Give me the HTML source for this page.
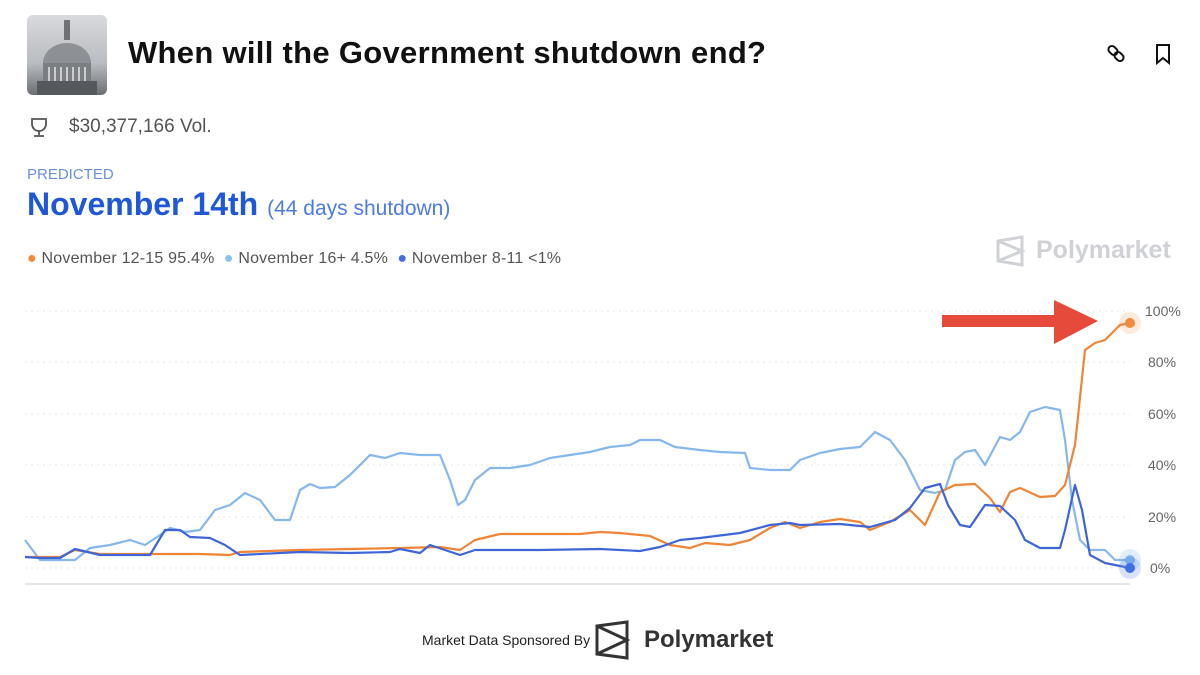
<!DOCTYPE html>
<html><head><meta charset="utf-8"><style>
html,body{margin:0;padding:0;background:#fff;width:1200px;height:675px;overflow:hidden;font-family:"Liberation Sans",sans-serif}
.a{position:absolute;white-space:nowrap}
</style></head><body>
<div class="a" style="left:27px;top:15px;width:80px;height:80px;border-radius:6px;background:linear-gradient(#d8dadd,#b9bcc0 60%,#6b6e72);overflow:hidden">
<svg width="80" height="80"><ellipse cx="40" cy="48" rx="24" ry="20" fill="#8d9094"/><rect x="16" y="48" width="48" height="20" fill="#7b7e82"/><rect x="10" y="66" width="60" height="14" fill="#55585c"/><rect x="37" y="5" width="6" height="20" fill="#6e7175"/><g stroke="#e8e8e8" stroke-width="1.5"><line x1="22" y1="52" x2="22" y2="66"/><line x1="28" y1="52" x2="28" y2="66"/><line x1="34" y1="52" x2="34" y2="66"/><line x1="40" y1="52" x2="40" y2="66"/><line x1="46" y1="52" x2="46" y2="66"/><line x1="52" y1="52" x2="52" y2="66"/><line x1="58" y1="52" x2="58" y2="66"/></g></svg></div>
<div class="a" style="left:128px;top:35px;font-size:31px;font-weight:bold;color:#111;letter-spacing:0.3px">When will the Government shutdown end?</div>
<svg class="a" style="left:1105px;top:42px" width="70" height="26"><g fill="none" stroke="#111" stroke-width="2"><rect x="3" y="5" width="10" height="7" rx="3.5" transform="rotate(45 8 8.5)"/><rect x="9" y="11" width="10" height="7" rx="3.5" transform="rotate(45 14 14.5)"/><path d="M52 3h12v18l-6-5-6 5z"/></g></svg>
<svg class="a" style="left:27px;top:117px" width="24" height="22"><g fill="none" stroke="#555" stroke-width="1.8"><path d="M5 2h14v5a7 7 0 0 1-14 0z"/><path d="M12 14v4M7 19h10"/></g></svg>
<div class="a" style="left:69px;top:116px;font-size:19px;color:#555">$30,377,166 Vol.</div>
<div class="a" style="left:27px;top:166px;font-size:15px;color:#6b8fe0">PREDICTED</div>
<div class="a" style="left:27px;top:186px;font-size:32px;font-weight:bold;color:#1e58d8">November 14th <span style="font-size:21px;font-weight:normal;color:#4c7ce0">(44 days shutdown)</span></div>
<div class="a" style="left:27px;top:250px;font-size:16px;color:#555;letter-spacing:0.2px"><span style="color:#f08a3c">●</span> November 12-15 95.4% &nbsp;<span style="color:#8ec0f2">●</span> November 16+ 4.5% &nbsp;<span style="color:#3f6fe0">●</span> November 8-11 &lt;1%</div>
<svg class="a" style="left:996px;top:235px" width="30" height="32"><g fill="none" stroke="#cfd1d6" stroke-width="3"><path d="M2 6L26 2V30L2 26Z M2 6L26 16L2 26"/></g></svg>
<div class="a" style="left:1036px;top:236px;font-size:25px;font-weight:bold;color:#cfd1d6">Polymarket</div>
<svg class="a" style="left:0;top:290px" width="1200" height="320">
<g stroke="#e2e4e8" stroke-dasharray="2 4" stroke-width="1"><line x1="25" y1="21" x2="1130" y2="21"/><line x1="25" y1="72" x2="1130" y2="72"/><line x1="25" y1="124" x2="1130" y2="124"/><line x1="25" y1="175" x2="1130" y2="175"/><line x1="25" y1="227" x2="1130" y2="227"/><line x1="25" y1="278" x2="1130" y2="278"/></g>
<line x1="25" y1="294" x2="1130" y2="294" stroke="#ddd" stroke-width="1.5"/>
<g font-size="14" fill="#666"><text x="1145" y="26">100%</text><text x="1148" y="77">80%</text><text x="1148" y="129">60%</text><text x="1148" y="180">40%</text><text x="1148" y="232">20%</text><text x="1150" y="283">0%</text></g>
<g fill="none" stroke-width="2.2" stroke-linejoin="round" transform="translate(0,-290)">
<polyline stroke="#86b8ee" points="25,540 40,560 60,560 75,560 90,548 110,545 130,540 145,545 160,535 170,528 185,532 200,530 215,510 230,505 245,493 260,500 275,520 290,520 300,490 310,484 320,488 335,487 350,475 370,455 385,458 400,453 420,455 440,455 450,480 458,505 465,500 475,480 490,468 510,468 530,465 550,458 570,455 590,452 610,447 630,445 640,440 660,440 675,447 700,450 720,452 745,453 750,468 770,470 790,470 800,460 820,453 840,449 860,447 875,432 890,440 905,460 920,490 935,493 945,490 955,460 965,452 975,450 985,465 1000,437 1010,440 1020,432 1030,412 1045,407 1060,410 1065,440 1072,500 1080,540 1090,550 1105,550 1115,560 1130,560"/>
<polyline stroke="#ef8537" points="25,557 60,557 75,550 100,554 150,554 200,554 230,555 240,552 300,550 350,549 400,548 440,547 460,550 475,540 500,534 540,534 580,534 600,532 620,533 650,536 670,545 690,548 705,543 730,545 750,540 770,528 785,522 800,528 820,522 840,519 860,522 870,530 890,522 910,510 925,525 940,492 955,485 975,484 990,498 1000,512 1010,492 1020,488 1040,497 1055,496 1065,485 1075,445 1085,350 1095,343 1105,340 1120,325 1130,323"/>
<polyline stroke="#3f66d6" points="25,557 40,558 60,558 75,549 100,555 150,555 165,530 180,530 190,537 210,538 225,545 240,555 300,552 350,553 390,552 400,549 420,553 430,545 445,550 460,555 475,550 500,550 540,550 600,549 640,551 660,547 680,540 700,538 740,533 770,525 790,523 800,525 840,524 870,527 895,520 910,508 925,488 940,484 948,505 960,525 970,527 985,505 1000,506 1015,520 1025,540 1040,548 1060,548 1065,530 1075,485 1082,510 1090,555 1105,563 1130,568"/>
<circle cx="1130" cy="323" r="11" fill="#f08a3c" fill-opacity="0.18" stroke="none"/><circle cx="1130" cy="323" r="5" fill="#f08a3c" stroke="none"/>
<circle cx="1130" cy="560" r="11" fill="#86b8ee" fill-opacity="0.25" stroke="none"/><circle cx="1130" cy="560" r="5" fill="#86b8ee" stroke="none"/>
<circle cx="1130" cy="568" r="11" fill="#3f6fe0" fill-opacity="0.2" stroke="none"/><circle cx="1130" cy="568" r="5" fill="#3f6fe0" stroke="none"/>
<path d="M942 315H1054V300L1098 321L1054 344V327H942Z" fill="#e64a3b" stroke="none"/>
</g></svg>
<div class="a" style="left:422px;top:632px;font-size:14px;color:#222">Market Data Sponsored By</div>
<svg class="a" style="left:595px;top:620px" width="36" height="40"><g fill="none" stroke="#333" stroke-width="3"><path d="M2 6L32 2V38L2 34Z M2 6L32 20L2 34"/></g></svg>
<div class="a" style="left:644px;top:626px;font-size:24px;font-weight:bold;color:#333">Polymarket</div>
</body></html>
